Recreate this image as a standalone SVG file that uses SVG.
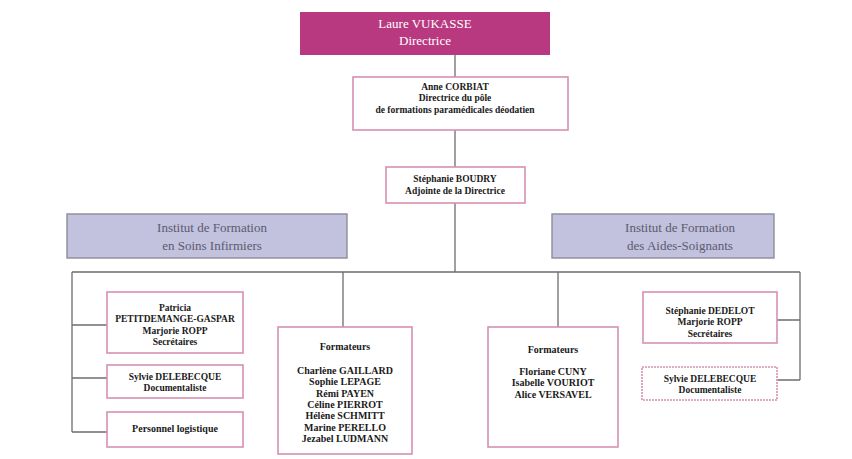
<svg xmlns="http://www.w3.org/2000/svg" width="852" height="459" viewBox="0 0 852 459">
<style>
.box{fill:#ffffff;stroke:#d690b2;stroke-width:1.6}
.inst{fill:#c2c1de;stroke:#8c8c98;stroke-width:1.4}
.t{font-family:"Liberation Serif",serif;font-weight:bold;font-size:9.5px;fill:#1a1a1a;text-anchor:middle}
.tf{font-family:"Liberation Serif",serif;font-weight:bold;font-size:10px;fill:#1a1a1a;text-anchor:middle}
.tw{font-family:"Liberation Serif",serif;font-size:13px;fill:#ffffff;text-anchor:middle}
.ti{font-family:"Liberation Serif",serif;font-size:13px;fill:#5b5b6e;text-anchor:middle}
.c{fill:none;stroke:#6e6e6e;stroke-width:1.3}
</style>
<rect width="852" height="459" fill="#ffffff"/>
<g id="connectors">
<path class="c" d="M455 55V77M455 130V167M455 203V272M72 272H800M72 272V432M72 325H107M72 378H107M72 432H107M343 272V327M558 272V327M800 272V380M777 320H800M777 380H800"/>
</g>
<g id="directrice">
<rect x="300" y="12" width="250" height="43" fill="#b8397f"/>
<text class="tw" x="425" y="28">Laure VUKASSE</text>
<text class="tw" x="425" y="45">Directrice</text>
</g>
<g id="corbiat">
<rect class="box" x="353" y="77" width="215" height="53"/>
<text class="t" x="455" y="90">Anne CORBIAT</text>
<text class="t" x="455" y="101">Directrice du pôle</text>
<text class="t" x="455" y="113">de formations paramédicales déodatien</text>
</g>
<g id="boudry">
<rect class="box" x="386" y="167" width="139" height="36"/>
<text class="t" x="455" y="182">Stéphanie BOUDRY</text>
<text class="t" x="455" y="194">Adjointe de la Directrice</text>
</g>
<g id="ifsi">
<rect class="inst" x="67" y="214" width="280" height="44"/>
<text class="ti" x="212" y="232">Institut de Formation</text>
<text class="ti" x="212" y="250">en Soins Infirmiers</text>
</g>
<g id="ifas">
<rect class="inst" x="552" y="214" width="222" height="44"/>
<text class="ti" x="680" y="232">Institut de Formation</text>
<text class="ti" x="680" y="250">des Aides-Soignants</text>
</g>
<g id="secretaires-ifsi">
<rect class="box" x="107" y="292" width="136" height="61"/>
<text class="t" x="175" y="311">Patricia</text>
<text class="t" x="175" y="322">PETITDEMANGE-GASPAR</text>
<text class="t" x="175" y="334">Marjorie ROPP</text>
<text class="t" x="175" y="345">Secrétaires</text>
</g>
<g id="doc-ifsi">
<rect class="box" x="107" y="365" width="136" height="33"/>
<text class="t" x="175" y="380">Sylvie DELEBECQUE</text>
<text class="t" x="175" y="391">Documentaliste</text>
</g>
<g id="logistique">
<rect class="box" x="107" y="412" width="136" height="35"/>
<text class="tf" x="175" y="432">Personnel logistique</text>
</g>
<g id="formateurs-ifsi">
<rect class="box" x="278" y="327" width="134" height="127"/>
<text class="tf" x="345" y="350">Formateurs</text>
<text class="tf" x="345" y="374">Charlène GAILLARD</text>
<text class="tf" x="345" y="385">Sophie LEPAGE</text>
<text class="tf" x="345" y="397">Rémi PAYEN</text>
<text class="tf" x="345" y="408">Céline PIERROT</text>
<text class="tf" x="345" y="419">Hélène SCHMITT</text>
<text class="tf" x="345" y="431">Marine PERELLO</text>
<text class="tf" x="345" y="442">Jezabel LUDMANN</text>
</g>
<g id="formateurs-ifas">
<rect class="box" x="488" y="327" width="130" height="120"/>
<text class="tf" x="553" y="353">Formateurs</text>
<text class="tf" x="553" y="375">Floriane CUNY</text>
<text class="tf" x="553" y="386">Isabelle VOURIOT</text>
<text class="tf" x="553" y="398">Alice VERSAVEL</text>
</g>
<g id="secretaires-ifas">
<rect class="box" x="643" y="292" width="134" height="51"/>
<text class="t" x="710" y="314">Stéphanie DEDELOT</text>
<text class="t" x="710" y="325">Marjorie ROPP</text>
<text class="t" x="710" y="337">Secrétaires</text>
</g>
<g id="doc-ifas">
<rect class="box" x="642" y="367" width="135" height="33" stroke-dasharray="2 1"/>
<text class="t" x="710" y="382">Sylvie DELEBECQUE</text>
<text class="t" x="710" y="393">Documentaliste</text>
</g>
</svg>
